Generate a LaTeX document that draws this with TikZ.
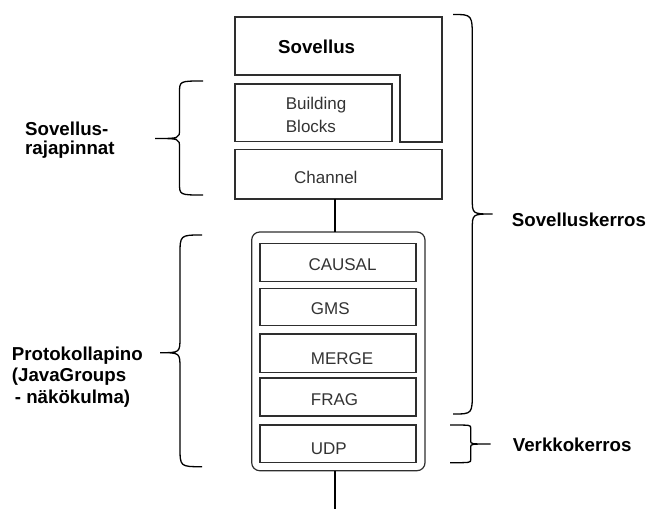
\documentclass[tikz,border=0pt]{standalone}
\usepackage{fontspec}
\setmainfont{Liberation Sans}
\definecolor{edge}{HTML}{2E2E2E}
\definecolor{ink}{HTML}{333333}
\begin{document}
\begin{tikzpicture}[x=1pt,y=-1pt,
  edge line/.style={draw=edge, line width=1.2pt},
  box/.style={edge line, inner sep=0pt, outer sep=0pt, anchor=north west},
  layer/.style={box, minimum width=156pt, minimum height=#1},
  txt/.style={inner sep=0pt, anchor=base west, text=ink, align=left,
    font=\fontsize{17}{23.4}\selectfont},
  head/.style={inner sep=0pt, anchor=base west, text=black, align=left,
    font=\fontsize{18.7}{21.8}\selectfont\bfseries},
  brace line/.style={draw=black, line width=1.3pt},
  link/.style={draw=black, line width=1.2pt}]
\useasboundingbox (0,0) rectangle (648,509);

% application block (L-shaped) and the API boxes
\draw[edge line] (235,17) -- (442,17) -- (442,142) -- (400,142) -- (400,75) -- (235,75) -- cycle;
\node[head] (app) at (278,53.3) {Sovellus};
\node[box, minimum width=157pt, minimum height=57.3pt] (bb) at (235,84) {};
% multi-line nodes are placed by the baseline of their last line
\node[txt] (bbtext) at (285.7,132.7) {Building\\Blocks};
\node[box, minimum width=207pt, minimum height=49.3pt] (channel) at (235,149.7) {};
\node[txt] (chtext) at (294,183.3) {Channel};

% protocol stack
\node[box, rounded corners=8pt, minimum width=173.3pt, minimum height=238.7pt] (stack) at (251.7,232) {};
\node[layer=38.4pt] (causal) at (260,243.3) {};
\node[layer=37.4pt] (gms) at (260,288.3) {};
\node[layer=38.3pt] (merge) at (260,334) {};
\node[layer=38pt] (frag) at (260,378) {};
\node[layer=37.7pt] (udp) at (260,425) {};
\node[txt] at (308.3,270.7) {CAUSAL};
\node[txt] at (310.7,314.3) {GMS};
\node[txt] at (310.7,364.7) {MERGE};
\node[txt] at (310.7,405) {FRAG};
\node[txt] at (310.7,454.3) {UDP};

% connections
\path ([xshift=-3.5pt]channel.south) coordinate (chout);
\coordinate (net) at (335,509);
\draw[link] (chout) -- (chout |- stack.north);
\draw[link] (stack.south -| net) -- (net);

% left braces
\draw[brace line] (203,81) .. controls (179.5,81) .. (179.5,93)
  -- (179.5,129.5) .. controls (179.5,138.5) .. (155,138.5)
  .. controls (179.5,138.5) .. (179.5,147.5)
  -- (179.5,183) .. controls (179.5,195) .. (203,195);
\draw[brace line] (202,235) .. controls (180,235) .. (180,255)
  -- (180,337) .. controls (180,352.7) .. (160,352.7)
  .. controls (180,352.7) .. (180,368.4)
  -- (180,447) .. controls (180,466.7) .. (202,466.7);

% right braces
\draw[brace line] (453,14.5) .. controls (472.3,14.5) .. (472.3,39.5)
  -- (472.3,199) .. controls (472.3,214) .. (492.7,214)
  .. controls (472.3,214) .. (472.3,229)
  -- (472.3,392) .. controls (472.3,414) .. (453,414);
\draw[brace line] (450,425) .. controls (470.7,425) .. (470.7,428)
  -- (470.7,441) .. controls (470.7,444) .. (490.7,444)
  .. controls (470.7,444) .. (470.7,447)
  -- (470.7,459.7) .. controls (470.7,462.7) .. (450,462.7);

% brace labels
\node[head, font=\fontsize{18.7}{19}\selectfont\bfseries] (api) at (25,154.5) {Sovellus-\\rajapinnat};
\node[head] (proto) at (11.7,403.6) {Protokollapino\\(JavaGroups\\\hspace*{3pt}- näkökulma)};
\node[head] (applayer) at (511.7,226.7) {Sovelluskerros};
\node[head] (netlayer) at (512.7,451.7) {Verkkokerros};
\end{tikzpicture}
\end{document}
